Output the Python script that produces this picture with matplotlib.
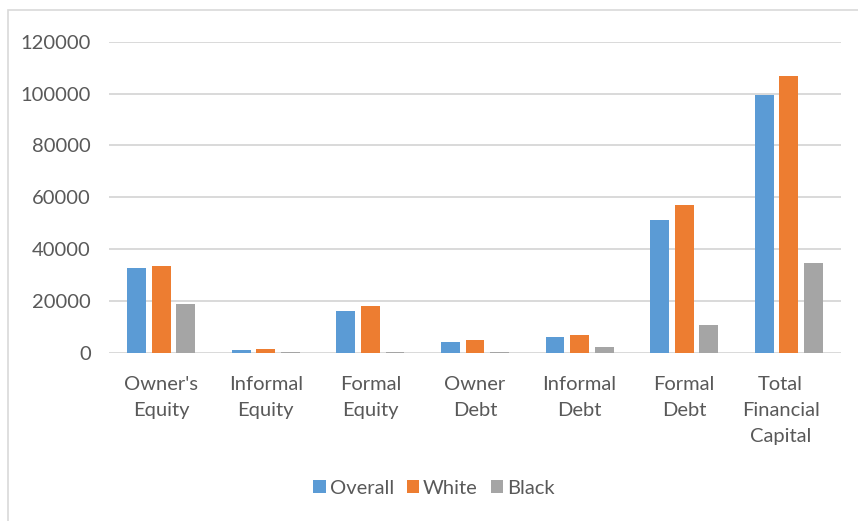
import matplotlib.pyplot as plt
import matplotlib.transforms as mtransforms
import numpy as np
from matplotlib.patches import Rectangle

# Data
categories = ["Owner's\nEquity", "Informal\nEquity", "Formal\nEquity", "Owner\nDebt",
              "Informal\nDebt", "Formal\nDebt", "Total\nFinancial\nCapital"]
overall = [32700, 1000, 16100, 4100, 5900, 51200, 99500]
white = [33500, 1300, 18000, 4900, 6800, 56900, 106900]
black = [18800, 100, 100, 100, 2200, 10600, 34600]
series_names = ["Overall", "White", "Black"]
colors = ["#5B9BD5", "#ED7D31", "#A5A5A5"]
yticks = [0, 20000, 40000, 60000, 80000, 100000, 120000]

plt.rcParams['font.family'] = ['Lato', 'DejaVu Sans']
text_color = "#595959"
fs = 14.5

fig = plt.figure(figsize=(8.58, 5.21), dpi=100)
ax = fig.add_axes([109 / 858, 1 - 352.7 / 521, (841 - 109) / 858, (352.7 - 41.7) / 521])

# outer chart border (only top and left visible in the crop)
fig.patches.append(Rectangle((8 / 858, -0.1), 1.2, 1.1 - 10 / 521, transform=fig.transFigure,
                             fill=False, edgecolor="#D9D9D9", linewidth=1.2))

x = np.arange(len(categories))
width = 0.18
step = 0.235
for i, (vals, name, c) in enumerate(zip([overall, white, black], series_names, colors)):
    ax.bar(x + (i - 1) * step, vals, width, color=c, label=name, zorder=3)

ax.set_xlim(-0.5, len(categories) - 0.5)
ax.set_ylim(0, 120000)
ax.set_yticks(yticks)
ax.set_yticklabels([str(v) for v in yticks])
ax.set_xticks(x)
ax.set_xticklabels(categories)
ax.tick_params(axis='both', length=0, labelsize=fs, colors=text_color)
ax.tick_params(axis='y', pad=13)
ax.tick_params(axis='x', pad=17)
xlabels = ax.get_xticklabels()
for lbl in xlabels:
    lbl.set_linespacing(1.62)
# Excel nudges the last label left
xlabels[-1].set_transform(xlabels[-1].get_transform() +
                          mtransforms.ScaledTranslation(-8 / 100, 0, fig.dpi_scale_trans))

ax.yaxis.grid(True, color="#D9D9D9", linewidth=1.4, zorder=0)
for s in ax.spines.values():
    s.set_visible(False)

leg = fig.legend(loc='center', bbox_to_anchor=(434 / 858, 1 - 488 / 521), ncol=3, frameon=False,
                 fontsize=fs, handlelength=0.6, handleheight=0.6, handletextpad=0.2,
                 columnspacing=0.65)
for t in leg.get_texts():
    t.set_color(text_color)

plt.savefig("out.png", dpi=100)
